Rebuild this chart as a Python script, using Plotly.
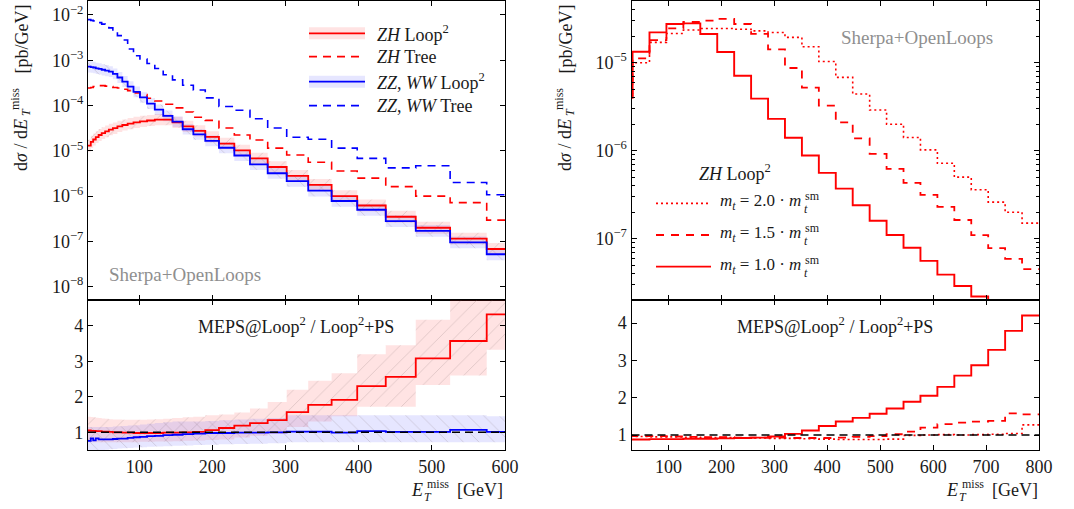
import plotly.graph_objects as go

W, H = 1074, 509
FONT = "Liberation Serif"
RED = "#ff0000"
BLUE = "#0000ff"
TXT = "#1a1a1a"

# ---------------- left panel data (bin edges in GeV, values in pb/GeV) ----------------
left_edges = [30, 33.8, 37.1, 40.6, 44.5, 48.7, 53.4, 58.5, 64, 70.2, 76.9, 84.2, 92.2, 101,
              110.7, 121.3, 132.8, 145.5, 159.4, 174, 190.3, 209, 230, 251.4, 275.6, 301.6,
              331, 363, 398, 437, 478, 525, 575, 630]

zh_loop = [1.30e-5, 1.58e-5, 1.78e-5, 2.00e-5, 2.24e-5, 2.45e-5, 2.69e-5, 2.95e-5, 3.16e-5,
           3.47e-5, 3.72e-5, 3.98e-5, 4.27e-5, 4.47e-5, 4.68e-5, 4.90e-5, 4.90e-5, 4.27e-5,
           3.47e-5, 2.75e-5, 2.04e-5, 1.45e-5, 1.02e-5, 6.8e-6, 4.4e-6, 2.8e-6, 1.78e-6,
           1.0e-6, 6.2e-7, 3.5e-7, 2.0e-7, 1.15e-7, 6.8e-8]
zh_loop_unc = [0.36, 0.36, 0.36, 0.35, 0.35, 0.35, 0.34, 0.34, 0.34, 0.33, 0.33, 0.33, 0.33,
               0.33, 0.33, 0.33, 0.33, 0.33, 0.33, 0.33, 0.33, 0.34, 0.34, 0.34, 0.34, 0.35,
               0.35, 0.35, 0.35, 0.35, 0.35, 0.35, 0.35]
zh_tree = [2.45e-4, 2.51e-4, 2.63e-4, 2.69e-4, 2.75e-4, 2.75e-4, 2.69e-4, 2.63e-4, 2.51e-4,
           2.45e-4, 2.29e-4, 2.14e-4, 1.91e-4, 1.74e-4, 1.45e-4, 1.26e-4, 1.07e-4, 8.9e-5,
           7.2e-5, 5.5e-5, 4.7e-5, 3.2e-5, 2.24e-5, 1.74e-5, 1.15e-5, 8.1e-6, 5.6e-6, 3.6e-6,
           2.5e-6, 1.62e-6, 1.0e-6, 7.2e-7, 2.95e-7]
zz_loop = [7.24e-4, 7.08e-4, 6.92e-4, 6.61e-4, 6.46e-4, 6.17e-4, 5.89e-4, 5.62e-4, 5.01e-4,
           4.17e-4, 3.39e-4, 2.63e-4, 2.0e-4, 1.51e-4, 1.10e-4, 8.1e-5, 5.9e-5, 4.4e-5, 3.0e-5,
           2.3e-5, 1.66e-5, 1.17e-5, 7.9e-6, 5.0e-6, 3.2e-6, 2.14e-6, 1.32e-6, 7.8e-7, 5.0e-7,
           2.8e-7, 1.7e-7, 9.5e-8, 5.2e-8]
zz_loop_unc = [0.34, 0.34, 0.34, 0.33, 0.33, 0.33, 0.33, 0.32, 0.32, 0.32, 0.32, 0.31, 0.31,
               0.31, 0.31, 0.31, 0.31, 0.31, 0.31, 0.31, 0.31, 0.32, 0.32, 0.32, 0.33, 0.33,
               0.34, 0.34, 0.35, 0.35, 0.35, 0.35, 0.35]
zz_tree = [7.9e-3, 7.6e-3, 7.4e-3, 7.1e-3, 6.8e-3, 6.3e-3, 5.9e-3, 5.2e-3, 4.4e-3, 3.5e-3,
           2.8e-3, 1.78e-3, 1.26e-3, 1.07e-3, 8.5e-4, 6.6e-4, 4.8e-4, 3.7e-4, 2.8e-4, 2.2e-4,
           1.48e-4, 9.5e-5, 7.9e-5, 5.1e-5, 3.2e-5, 2.0e-5, 1.8e-5, 1.15e-5, 6.8e-6, 4.2e-6,
           4.7e-6, 2.0e-6, 1.07e-6]

# ratio MEPS@Loop2 / Loop2+PS (left)
zh_ratio = [1.05, 1.04, 1.04, 1.03, 1.03, 1.02, 1.02, 1.01, 1.00, 1.00, 0.99, 0.99, 0.98,
            0.98, 0.98, 0.98, 0.99, 0.99, 1.00, 1.01, 1.06, 1.12, 1.19, 1.26, 1.34, 1.57,
            1.77, 1.91, 2.30, 2.56, 3.08, 3.57, 4.32]
zh_ratio_hi = [1.44, 1.43, 1.42, 1.41, 1.40, 1.39, 1.38, 1.37, 1.36, 1.36, 1.35, 1.35, 1.35,
               1.35, 1.36, 1.37, 1.38, 1.40, 1.42, 1.44, 1.48, 1.50, 1.56, 1.67, 1.85, 2.20,
               2.45, 2.66, 3.20, 3.45, 4.17, 4.80, 4.80]
zh_ratio_lo = [0.72, 0.72, 0.72, 0.72, 0.72, 0.72, 0.72, 0.72, 0.72, 0.72, 0.72, 0.72, 0.72,
               0.73, 0.73, 0.74, 0.74, 0.75, 0.76, 0.77, 0.78, 0.80, 0.85, 0.90, 0.95, 1.15,
               1.30, 1.45, 1.72, 1.72, 2.33, 2.60, 3.32]
zz_ratio = [0.76, 0.83, 0.77, 0.83, 0.80, 0.80, 0.80, 0.80, 0.81, 0.82, 0.82, 0.84, 0.86,
            0.87, 0.89, 0.90, 0.92, 0.93, 0.95, 0.96, 0.98, 0.98, 0.99, 0.99, 1.00, 1.02,
            1.02, 0.99, 1.03, 1.01, 1.01, 1.07, 1.01]
zz_ratio_hi = [1.15, 1.15, 1.15, 1.15, 1.15, 1.15, 1.15, 1.15, 1.16, 1.17, 1.18, 1.19, 1.20,
               1.22, 1.24, 1.26, 1.28, 1.30, 1.30, 1.30, 1.32, 1.34, 1.36, 1.38, 1.40, 1.48,
               1.48, 1.48, 1.48, 1.48, 1.48, 1.48, 1.45]
zz_ratio_lo = [0.50, 0.50, 0.50, 0.50, 0.50, 0.50, 0.51, 0.52, 0.53, 0.54, 0.55, 0.56, 0.57,
               0.58, 0.59, 0.60, 0.61, 0.62, 0.63, 0.64, 0.65, 0.66, 0.67, 0.68, 0.69, 0.72,
               0.72, 0.72, 0.72, 0.72, 0.72, 0.72, 0.72]

# ---------------- right panel data ----------------
right_edges = [0, 32, 64, 96, 128, 160, 192, 224, 256, 288, 320, 352, 384, 416, 448, 480,
               512, 544, 576, 608, 640, 672, 704, 736, 768, 800]
mt10 = [4.0e-6, 1.33e-5, 2.21e-5, 2.75e-5, 2.8e-5, 2.12e-5, 1.32e-5, 7.1e-6, 3.9e-6, 2.3e-6,
        1.4e-6, 8.8e-7, 5.6e-7, 3.7e-7, 2.4e-7, 1.6e-7, 1.1e-7, 7.9e-8, 5.6e-8, 3.9e-8,
        2.9e-8, 2.2e-8, 1.7e-8, 1.3e-8, 1.0e-8]
mt15 = [4.2e-6, 1.12e-5, 1.8e-5, 2.45e-5, 2.9e-5, 3.0e-5, 3.15e-5, 2.75e-5, 2.13e-5, 1.42e-5,
        8.7e-6, 5.2e-6, 3.25e-6, 2.1e-6, 1.38e-6, 9.2e-7, 6.2e-7, 4.3e-7, 3.15e-7, 2.3e-7,
        1.63e-7, 1.1e-7, 7.8e-8, 5.9e-8, 4.5e-8]
mt20 = [4.5e-6, 1.0e-5, 1.7e-5, 2.15e-5, 2.35e-5, 2.45e-5, 2.45e-5, 2.4e-5, 2.3e-5, 2.2e-5,
        1.94e-5, 1.52e-5, 1.03e-5, 6.8e-6, 4.4e-6, 2.9e-6, 2.0e-6, 1.41e-6, 1.02e-6, 7.2e-7,
        5.0e-7, 3.6e-7, 2.6e-7, 2.0e-7, 1.5e-7]
r_mt10 = [0.88, 0.88, 0.89, 0.89, 0.90, 0.90, 0.91, 0.92, 0.93, 0.96, 1.03, 1.12, 1.24, 1.36,
          1.46, 1.57, 1.71, 1.89, 2.05, 2.29, 2.59, 2.87, 3.28, 3.79, 4.20]
r_mt15 = [0.98, 0.97, 0.97, 0.96, 0.95, 0.94, 0.94, 0.93, 0.93, 0.93, 0.92, 0.92, 0.92, 0.93,
          0.95, 0.97, 1.02, 1.09, 1.20, 1.29, 1.33, 1.36, 1.38, 1.58, 1.55]
r_mt20 = [0.96, 0.96, 0.95, 0.95, 0.94, 0.93, 0.93, 0.92, 0.92, 0.91, 0.91, 0.90, 0.89, 0.88,
          0.88, 0.88, 0.89, 0.99, 1.00, 1.01, 1.00, 1.01, 1.02, 1.04, 1.27]

left_ticks = [100, 200, 300, 400, 500, 600]
right_ticks = [100, 200, 300, 400, 500, 600, 700, 800]
left_logticks = [1e-8, 1e-7, 1e-6, 1e-5, 1e-4, 1e-3, 1e-2]
left_logtext = ["10<sup>\u22128</sup>", "10<sup>\u22127</sup>", "10<sup>\u22126</sup>",
                "10<sup>\u22125</sup>", "10<sup>\u22124</sup>", "10<sup>\u22123</sup>",
                "10<sup>\u22122</sup>"]
right_logticks = [1e-7, 1e-6, 1e-5]
right_logtext = ["10<sup>\u22127</sup>", "10<sup>\u22126</sup>", "10<sup>\u22125</sup>"]
ratio_ticks = [1, 2, 3, 4]


def step(edges, vals):
    return list(edges), list(vals) + [vals[-1]]


fig = go.Figure()


def add_line(edges, vals, color, xa, ya, dash="solid", width=1.8):
    x, y = step(edges, vals)
    fig.add_trace(go.Scatter(x=x, y=y, mode="lines", line=dict(color=color, width=width, dash=dash, shape="hv"),
                             xaxis=xa, yaxis=ya, showlegend=False, hoverinfo="skip"))


def add_band(edges, lo, hi, fill, hatch, xa, ya):
    x, ylo = step(edges, lo)
    _, yhi = step(edges, hi)
    fig.add_trace(go.Scatter(x=x, y=ylo, mode="lines", line=dict(width=0, shape="hv"),
                             xaxis=xa, yaxis=ya, showlegend=False, hoverinfo="skip"))
    fig.add_trace(go.Scatter(x=x, y=yhi, mode="lines", line=dict(width=0, shape="hv"),
                             fill="tonexty", fillcolor=fill,
                             fillpattern=dict(shape=hatch, size=11, solidity=0.07,
                                              fgcolor="rgba(110,90,90,0.5)", fillmode="overlay"),
                             xaxis=xa, yaxis=ya, showlegend=False, hoverinfo="skip"))


RFILL = "rgba(255,40,40,0.13)"
BFILL = "rgba(60,60,255,0.13)"

# left main
add_band(left_edges, [v / (1 + u) for v, u in zip(zh_loop, zh_loop_unc)],
         [v * (1 + u) for v, u in zip(zh_loop, zh_loop_unc)], RFILL, "/", "x", "y")
add_band(left_edges, [v / (1 + u) for v, u in zip(zz_loop, zz_loop_unc)],
         [v * (1 + u) for v, u in zip(zz_loop, zz_loop_unc)], BFILL, "\\", "x", "y")
add_line(left_edges, zh_tree, RED, "x", "y", dash="8px,6px", width=1.6)
add_line(left_edges, zz_tree, BLUE, "x", "y", dash="8px,6px", width=1.6)
add_line(left_edges, zh_loop, RED, "x", "y")
add_line(left_edges, zz_loop, BLUE, "x", "y")

# left ratio
add_band(left_edges, zh_ratio_lo, zh_ratio_hi, RFILL, "/", "x2", "y2")
add_band(left_edges, zz_ratio_lo, zz_ratio_hi, BFILL, "\\", "x2", "y2")
add_line(left_edges, zh_ratio, RED, "x2", "y2")
add_line(left_edges, zz_ratio, BLUE, "x2", "y2")

# right main
add_line(right_edges, mt20, RED, "x3", "y3", dash="2px,3px", width=1.6)
add_line(right_edges, mt15, RED, "x3", "y3", dash="8px,7px", width=1.8)
add_line(right_edges, mt10, RED, "x3", "y3", width=1.9)

# right ratio
add_line(right_edges, r_mt20, RED, "x4", "y4", dash="2px,3px", width=1.6)
add_line(right_edges, r_mt15, RED, "x4", "y4", dash="8px,7px", width=1.8)
add_line(right_edges, r_mt10, RED, "x4", "y4", width=1.9)


def px(x):
    return x / W


def py(y):
    return 1 - y / H


XL = [px(88), px(505)]
XR = [px(631.5), px(1039)]
YM = [py(300), py(1)]
YR = [py(450), py(300)]

common = dict(showline=True, linecolor="black", linewidth=1.1, mirror="allticks", ticks="inside",
              ticklen=5, tickwidth=1, tickcolor="black", showgrid=False, zeroline=False,
              tickfont=dict(family=FONT, size=18, color=TXT), automargin=False)

fig.update_layout(
    xaxis=dict(domain=XL, range=[30, 600], anchor="y", tickvals=left_ticks, showticklabels=False, **common),
    yaxis=dict(domain=YM, type="log", range=[-8.294, -1.691], anchor="x", tickvals=left_logticks,
               ticktext=left_logtext, **common),
    xaxis2=dict(domain=XL, range=[30, 600], anchor="y2", tickvals=left_ticks, **common),
    yaxis2=dict(domain=YR, range=[0.501, 4.724], anchor="x2", tickvals=ratio_ticks, **common),
    xaxis3=dict(domain=XR, range=[30, 800], anchor="y3", tickvals=right_ticks, showticklabels=False, **common),
    yaxis3=dict(domain=YM, type="log", range=[-7.697, -4.299], anchor="x3", tickvals=right_logticks,
                ticktext=right_logtext,
                minor=dict(ticks="inside", ticklen=3, tickcolor="black", dtick="D1", showgrid=False),
                **common),
    xaxis4=dict(domain=XR, range=[30, 800], anchor="y4", tickvals=right_ticks, **common),
    yaxis4=dict(domain=YR, range=[0.598, 4.617], anchor="x4", tickvals=ratio_ticks, **common),
    width=W, height=H, autosize=False,
    margin=dict(l=0, r=0, t=0, b=0),
    paper_bgcolor="white", plot_bgcolor="white",
    showlegend=False,
)

shapes = []
# unity lines in ratio panels
for xa, ya in (("x2", "y2"), ("x4", "y4")):
    shapes.append(dict(type="line", xref=xa + " domain", yref=ya, x0=0, x1=1, y0=1, y1=1,
                       line=dict(color="black", width=1.4, dash="8px,5px")))

annotations = []


def ann(text, x, y, size=18, xanchor="left", yanchor="middle", color=TXT, angle=0):
    annotations.append(dict(text=text, x=px(x), y=py(y), xref="paper", yref="paper", showarrow=False,
                            xanchor=xanchor, yanchor=yanchor, textangle=angle,
                            font=dict(family=FONT, size=size, color=color)))


# left legend
leg_y = [33.3, 56.7, 81.7, 105.7]
leg_txt = ["<i>ZH</i> Loop<sup>2</sup>", "<i>ZH</i> Tree", "<i>ZZ</i>, <i>WW</i> Loop<sup>2</sup>",
           "<i>ZZ</i>, <i>WW</i> Tree"]
leg_col = [RED, RED, BLUE, BLUE]
leg_dash = ["solid", "8px,6px", "solid", "8px,6px"]
leg_band = [RFILL, None, BFILL, None]
for yy, t, c, d, b in zip(leg_y, leg_txt, leg_col, leg_dash, leg_band):
    if b:
        shapes.append(dict(type="rect", xref="paper", yref="paper", x0=px(309), x1=px(365),
                           y0=py(yy + 6), y1=py(yy - 6), fillcolor=b, line=dict(width=0)))
    shapes.append(dict(type="line", xref="paper", yref="paper", x0=px(309), x1=px(365), y0=py(yy), y1=py(yy),
                       line=dict(color=c, width=1.8, dash=d)))
    ann(t, 375, yy)

# right legend
ann("<i>ZH</i> Loop<sup>2</sup>", 735, 172, xanchor="center")
r_leg_y = [203.3, 235, 266.7]
r_leg_dash = ["2px,3px", "8px,7px", "solid"]
r_leg_val = ["2.0", "1.5", "1.0"]
for yy, d, v in zip(r_leg_y, r_leg_dash, r_leg_val):
    shapes.append(dict(type="line", xref="paper", yref="paper", x0=px(656), x1=px(711), y0=py(yy), y1=py(yy),
                       line=dict(color=RED, width=1.8, dash=d)))
    ann("<i>m</i><sub><i>t</i></sub> = " + v + " \u00b7 <i>m</i>", 803, yy - 1, size=17, xanchor="right")
    ann("sm", 802.5, yy - 7, size=12)
    ann("<i>t</i>", 801.5, yy + 6, size=12)

# gray labels
ann("Sherpa+OpenLoops", 107, 274, size=19, color="#8f8f8f")
ann("Sherpa+OpenLoops", 839, 38, size=19, color="#8f8f8f")

# ratio titles
ann("MEPS@Loop<sup>2</sup> / Loop<sup>2</sup>+PS", 296.5, 325, xanchor="center")
ann("MEPS@Loop<sup>2</sup> / Loop<sup>2</sup>+PS", 835, 325, xanchor="center")

# x axis titles
for dx in (0, 535):
    ann("<i>E</i>", 425 + dx, 490, xanchor="right")
    ann("miss", 424.5 + dx, 484, size=12)
    ann("<i>T</i>", 421.5 + dx, 496.5, size=12)
    ann("[GeV]", 505 + dx, 490, xanchor="right")

# y axis titles (rotated)
for cx in (21, 565):
    ann("d<i>\u03c3</i> / d<i>E</i>", cx, 117, xanchor="center", yanchor="top", angle=-90)
    ann("miss", cx - 6, 112, size=12, xanchor="center", yanchor="bottom", angle=-90)
    ann("<i>T</i>", cx + 5, 118, size=12, xanchor="center", yanchor="bottom", angle=-90)
    ann("[pb/GeV]", cx, 3, xanchor="center", yanchor="top", angle=-90)

fig.update_layout(shapes=shapes, annotations=annotations)
fig.write_html("out.html", config={"displayModeBar": False},
               post_script="document.body.style.margin='0';document.body.style.padding='0';"
                           "document.documentElement.style.overflow='hidden';")
